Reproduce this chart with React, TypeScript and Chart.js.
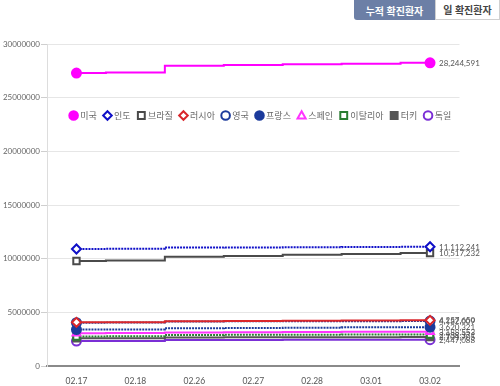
import React, { useEffect, useRef } from "react";
import { Chart, registerables } from "chart.js";

Chart.register(...registerables);

const dates = ["02.17", "02.18", "02.26", "02.27", "02.28", "03.01", "03.02"];
const countryNames = ["미국", "인도", "브라질", "러시아", "영국", "프랑스", "스페인", "이탈리아", "터키", "독일"];

const usa = [27290000, 27350000, 27970000, 28040000, 28110000, 28170000, 28244591];
const india = [10900000, 10920000, 11030000, 11050000, 11070000, 11090000, 11112241];
const brazil = [9780000, 9830000, 10170000, 10260000, 10360000, 10440000, 10517232];
const russia = [4070000, 4080000, 4170000, 4190000, 4210000, 4230000, 4257650];
const uk = [4040000, 4055000, 4150000, 4160000, 4170000, 4178000, 4182009];
const france = [3390000, 3410000, 3520000, 3550000, 3570000, 3600000, 3620321];
const spain = [3050000, 3070000, 3130000, 3150000, 3170000, 3180000, 3188553];
const italy = [2750000, 2770000, 2880000, 2900000, 2920000, 2930000, 2938371];
const turkey = [2580000, 2590000, 2660000, 2670000, 2680000, 2690000, 2701705];
const germany = [2320000, 2330000, 2420000, 2430000, 2440000, 2445000, 2447088];

const yTicks = [0, 5000000, 10000000, 15000000, 20000000, 25000000, 30000000];

const seriesValues = [usa, india, brazil, russia, uk, france, spain, italy, turkey, germany];

type Style = { color: string; shape: string; filled: boolean; dash: number[] };
const styles: Style[] = [
  { color: "#ff00ff", shape: "circle", filled: true, dash: [] },
  { color: "#1010c8", shape: "rectRot", filled: false, dash: [2, 1] },
  { color: "#4a4a4a", shape: "rect", filled: false, dash: [] },
  { color: "#d9262b", shape: "rectRot", filled: false, dash: [] },
  { color: "#1c3b9c", shape: "circle", filled: false, dash: [2, 1] },
  { color: "#1c3b9c", shape: "circle", filled: true, dash: [2, 1] },
  { color: "#ff33ff", shape: "triangle", filled: false, dash: [] },
  { color: "#2a7d32", shape: "rect", filled: false, dash: [2, 1] },
  { color: "#555555", shape: "rect", filled: true, dash: [] },
  { color: "#7b2fd6", shape: "circle", filled: false, dash: [] },
];

const FONT = "Lato, 'Noto Sans CJK KR', sans-serif";

function drawMarker(ctx: CanvasRenderingContext2D, shape: string, x: number, y: number, r: number, color: string, filled: boolean) {
  ctx.save();
  ctx.beginPath();
  if (shape === "circle") {
    ctx.arc(x, y, r, 0, Math.PI * 2);
  } else if (shape === "rect") {
    const s = r * 0.8;
    ctx.rect(x - s, y - s, s * 2, s * 2);
  } else if (shape === "rectRot") {
    ctx.moveTo(x, y - r);
    ctx.lineTo(x + r, y);
    ctx.lineTo(x, y + r);
    ctx.lineTo(x - r, y);
    ctx.closePath();
  } else if (shape === "triangle") {
    ctx.moveTo(x, y - r);
    ctx.lineTo(x + r * 0.95, y + r * 0.7);
    ctx.lineTo(x - r * 0.95, y + r * 0.7);
    ctx.closePath();
  }
  ctx.fillStyle = filled ? color : "#ffffff";
  ctx.fill();
  ctx.lineWidth = 2;
  ctx.strokeStyle = color;
  ctx.stroke();
  ctx.restore();
}

const overlayLegend = {
  id: "overlayLegend",
  afterDraw(chart: any) {
    const ctx: CanvasRenderingContext2D = chart.ctx;
    const area = chart.chartArea;
    ctx.save();
    ctx.font = `9px ${FONT}`;
    const r = 4.3;
    const gapMarker = 6.6;
    const gapItem = 6.4;
    const widths = countryNames.map((n) => ctx.measureText(n).width);
    let total = 0;
    widths.forEach((w, i) => {
      total += (i === 0 ? r : 0) + gapMarker + w + (i < widths.length - 1 ? gapItem + r : 0);
    });
    const centerX = (area.left + area.right) / 2 + 7;
    let x = centerX - total / 2 + r;
    const y = area.top + 71.5;
    countryNames.forEach((name, i) => {
      const st = styles[i];
      drawMarker(ctx, st.shape, x, y, r, st.color, st.filled);
      ctx.fillStyle = "#666";
      ctx.textAlign = "left";
      ctx.textBaseline = "middle";
      ctx.fillText(name, x + gapMarker, y + 0.5);
      x += gapMarker + widths[i] + gapItem + r;
    });
    ctx.restore();
  },
};

const endLabels = {
  id: "endLabels",
  afterDatasetsDraw(chart: any) {
    const ctx: CanvasRenderingContext2D = chart.ctx;
    ctx.save();
    ctx.font = `8px ${FONT}`;
    ctx.fillStyle = "#555";
    ctx.textAlign = "left";
    ctx.textBaseline = "middle";
    chart.data.datasets.forEach((ds: any, i: number) => {
      const meta = chart.getDatasetMeta(i);
      const last = meta.data[meta.data.length - 1];
      const v = ds.data[ds.data.length - 1];
      ctx.fillText(Number(v).toLocaleString("en-US"), last.x + 9, last.y + 0.5);
    });
    ctx.restore();
  },
};

export default function App() {
  const ref = useRef<HTMLCanvasElement>(null);

  useEffect(() => {
    if (!ref.current) return;
    const n = dates.length;
    const radii = dates.map((_, i) => (i === 0 || i === n - 1 ? 4.5 : 0));
    const datasets = countryNames.map((name, i) => {
      const st = styles[i];
      return {
        label: name,
        data: seriesValues[i],
        borderColor: st.color,
        borderWidth: 2,
        borderDash: st.dash,
        stepped: "middle" as const,
        pointStyle: st.shape,
        pointRadius: radii,
        pointHoverRadius: radii,
        pointBorderWidth: 2,
        pointBackgroundColor: st.filled ? st.color : "#ffffff",
        pointBorderColor: st.color,
        fill: false,
      };
    });

    const chart = new Chart(ref.current, {
      type: "line",
      data: { labels: dates, datasets: datasets as any },
      options: {
        responsive: false,
        animation: false,
        devicePixelRatio: 1,
        layout: { padding: { top: 44, right: 40.5, bottom: 0, left: 0 } },
        plugins: {
          legend: { display: false },
          tooltip: { enabled: false },
        },
        scales: {
          x: {
            offset: true,
            grid: { display: false },
            border: { display: true, color: "#8a8a8a", width: 2 },
            ticks: {
              color: "#555",
              font: { family: FONT, size: 8.5 },
              padding: 2,
              maxRotation: 0,
            },
            afterFit: (s: any) => {
              s.height = 20;
            },
          },
          y: {
            min: 0,
            max: 30000000,
            afterBuildTicks: (s: any) => {
              s.ticks = yTicks.map((v) => ({ value: v }));
            },
            grid: {
              color: "#e6e6e6",
              tickColor: "#cfcfcf",
              tickLength: 6,
              lineWidth: 1,
            },
            border: { display: true, color: "#dddddd", width: 1 },
            ticks: {
              color: "#666",
              font: { family: FONT, size: 8 },
              padding: 1,
              callback: (v: any) => String(v),
            },
            afterFit: (s: any) => {
              s.width = 47;
            },
          },
        },
      },
      plugins: [endLabels, overlayLegend],
    });
    return () => chart.destroy();
  }, []);

  const btnBase: React.CSSProperties = {
    position: "absolute",
    top: 0,
    height: 20,
    display: "flex",
    alignItems: "center",
    justifyContent: "center",
    fontFamily: FONT,
    fontSize: 10,
    fontWeight: 700,
    boxSizing: "border-box",
  };

  return (
    <div style={{ position: "fixed", left: 0, top: 0, width: 500, height: 386, background: "#fff", overflow: "hidden" }}>
      <canvas ref={ref} width={500} height={386} style={{ position: "absolute", left: 0, top: 0 }} />
      <div style={{ ...btnBase, left: 354, width: 81, background: "#6c7fa6", color: "#fff", borderBottomLeftRadius: 3 }}>누적 확진환자</div>
      <div style={{ ...btnBase, left: 435, width: 65, background: "#fff", color: "#444", border: "1px solid #d0d0d0", borderTop: "none" }}>일 확진환자</div>
    </div>
  );
}
